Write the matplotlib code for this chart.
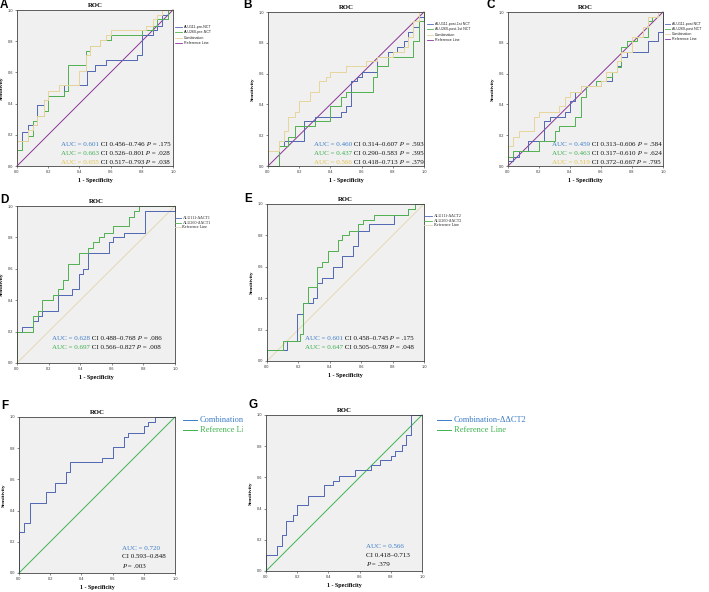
import numpy as np
import matplotlib.pyplot as plt
from matplotlib.lines import Line2D
from matplotlib.transforms import Bbox, TransformedBbox

# ---- data ----
ticks = [0.0, 0.2, 0.4, 0.6, 0.8, 1.0]
tick_labels = ['0.0', '0.2', '0.4', '0.6', '0.8', '1.0']
ref_x = [0, 1]
ref_y = [0, 1]

# A: pre-NCT
a111_fpr = [0, 0, 0.03, 0.07, 0.13, 0.17, 0.20, 0.30, 0.45, 0.50, 0.57, 0.77, 0.80, 0.87, 0.90, 0.93, 0.97, 1.0]
a111_tpr = [0, 0.16, 0.22, 0.26, 0.39, 0.42, 0.45, 0.52, 0.61, 0.65, 0.68, 0.71, 0.84, 0.87, 0.90, 0.97, 1.0, 1.0]
a260_fpr = [0, 0, 0.03, 0.07, 0.10, 0.13, 0.17, 0.20, 0.30, 0.33, 0.44, 0.47, 0.53, 0.60, 0.80, 0.87, 0.90, 0.97, 1.0]
a260_tpr = [0, 0.10, 0.16, 0.19, 0.29, 0.32, 0.35, 0.45, 0.48, 0.65, 0.74, 0.77, 0.81, 0.84, 0.87, 0.90, 0.94, 1.0, 1.0]
acomb_fpr = [0, 0, 0.07, 0.10, 0.13, 0.17, 0.20, 0.27, 0.40, 0.44, 0.47, 0.53, 0.57, 0.60, 0.83, 0.87, 0.90, 0.93, 1.0]
acomb_tpr = [0, 0.16, 0.23, 0.26, 0.32, 0.42, 0.48, 0.52, 0.61, 0.71, 0.77, 0.81, 0.84, 0.87, 0.90, 0.94, 0.97, 1.0, 1.0]

# B: post-1st NCT
b111_fpr = [0, 0.07, 0.10, 0.23, 0.30, 0.47, 0.50, 0.53, 0.57, 0.60, 0.70, 0.77, 0.83, 0.87, 0.90, 0.93, 0.97, 1.0]
b111_tpr = [0, 0.13, 0.16, 0.29, 0.32, 0.35, 0.39, 0.55, 0.58, 0.61, 0.71, 0.74, 0.77, 0.81, 0.87, 0.90, 0.97, 1.0]
b260_fpr = [0, 0.07, 0.13, 0.17, 0.30, 0.40, 0.47, 0.50, 0.67, 0.70, 0.77, 0.93, 0.97, 1.0, 1.0]
b260_tpr = [0, 0.13, 0.19, 0.26, 0.29, 0.39, 0.45, 0.48, 0.58, 0.65, 0.71, 0.81, 0.94, 1.0, 1.0]
bcomb_fpr = [0, 0, 0.07, 0.10, 0.13, 0.17, 0.20, 0.27, 0.33, 0.37, 0.40, 0.50, 0.63, 0.70, 0.80, 0.87, 0.90, 0.93, 0.97, 1.0]
bcomb_tpr = [0, 0.10, 0.16, 0.23, 0.32, 0.35, 0.42, 0.48, 0.55, 0.58, 0.61, 0.65, 0.68, 0.71, 0.74, 0.77, 0.84, 0.94, 1.0, 1.0]

# C: post NCT
c111_fpr = [0, 0, 0.03, 0.07, 0.13, 0.23, 0.27, 0.37, 0.40, 0.43, 0.47, 0.60, 0.67, 0.70, 0.73, 0.77, 0.90, 0.97, 1.0, 1.0]
c111_tpr = [0, 0.03, 0.06, 0.10, 0.16, 0.29, 0.32, 0.35, 0.42, 0.48, 0.52, 0.55, 0.61, 0.65, 0.71, 0.74, 0.81, 0.87, 0.87, 1.0]
c260_fpr = [0, 0, 0.03, 0.20, 0.30, 0.33, 0.43, 0.47, 0.50, 0.57, 0.63, 0.67, 0.70, 0.73, 0.77, 0.83, 0.90, 0.93, 0.97, 1.0]
c260_tpr = [0, 0.06, 0.10, 0.16, 0.23, 0.26, 0.32, 0.45, 0.52, 0.55, 0.58, 0.61, 0.64, 0.77, 0.81, 0.84, 0.94, 0.97, 1.0, 1.0]
ccomb_fpr = [0, 0, 0.03, 0.07, 0.17, 0.20, 0.33, 0.37, 0.40, 0.47, 0.60, 0.63, 0.70, 0.73, 0.80, 0.87, 0.90, 0.97, 1.0]
ccomb_tpr = [0, 0.13, 0.19, 0.23, 0.32, 0.35, 0.39, 0.45, 0.48, 0.52, 0.55, 0.61, 0.68, 0.74, 0.84, 0.90, 0.97, 1.0, 1.0]

# D: ddCT1
d111_fpr = [0, 0, 0.03, 0.10, 0.13, 0.16, 0.26, 0.35, 0.39, 0.42, 0.45, 0.58, 0.61, 0.68, 0.81, 1.0, 1.0]
d111_tpr = [0, 0.20, 0.23, 0.27, 0.30, 0.33, 0.43, 0.47, 0.57, 0.60, 0.70, 0.77, 0.80, 0.83, 0.97, 0.97, 1.0]
d260_fpr = [0, 0, 0.10, 0.13, 0.16, 0.23, 0.26, 0.29, 0.32, 0.39, 0.45, 0.48, 0.52, 0.55, 0.61, 0.71, 0.74, 0.77, 1.0]
d260_tpr = [0, 0.20, 0.30, 0.33, 0.40, 0.43, 0.47, 0.53, 0.63, 0.70, 0.73, 0.77, 0.80, 0.83, 0.87, 0.93, 0.97, 1.0, 1.0]

# E: ddCT2
e111_fpr = [0, 0, 0.13, 0.19, 0.23, 0.29, 0.32, 0.35, 0.42, 0.48, 0.55, 0.58, 0.65, 0.81, 0.90, 0.94, 1.0]
e111_tpr = [0, 0.07, 0.13, 0.30, 0.37, 0.40, 0.50, 0.53, 0.60, 0.67, 0.73, 0.83, 0.87, 0.93, 0.97, 1.0, 1.0]
e260_fpr = [0, 0, 0.10, 0.21, 0.23, 0.26, 0.32, 0.35, 0.39, 0.45, 0.48, 0.52, 0.58, 0.61, 0.68, 0.90, 0.94, 1.0]
e260_tpr = [0, 0.07, 0.13, 0.17, 0.37, 0.47, 0.60, 0.63, 0.70, 0.77, 0.80, 0.83, 0.87, 0.90, 0.93, 0.97, 1.0, 1.0]

# F, G: combinations
f_fpr = [0, 0, 0.03, 0.07, 0.17, 0.23, 0.30, 0.33, 0.53, 0.60, 0.67, 0.70, 0.80, 0.83, 0.87, 1.0]
f_tpr = [0, 0.26, 0.32, 0.45, 0.52, 0.58, 0.65, 0.71, 0.74, 0.81, 0.87, 0.90, 0.94, 0.97, 1.0, 1.0]
g_fpr = [0, 0, 0.07, 0.10, 0.13, 0.17, 0.20, 0.27, 0.37, 0.43, 0.47, 0.57, 0.67, 0.73, 0.80, 0.83, 0.87, 0.90, 0.93, 1.0]
g_tpr = [0, 0.10, 0.16, 0.23, 0.32, 0.36, 0.42, 0.48, 0.55, 0.58, 0.61, 0.65, 0.68, 0.71, 0.74, 0.77, 0.81, 0.87, 1.0, 1.0]

# AUC annotations: (auc, ci, p)
a_stats = [('0.601', '0.456–0.746', '.175'), ('0.663', '0.526–0.801', '.028'), ('0.655', '0.517–0.793', '.038')]
b_stats = [('0.460', '0.314–0.607', '.593'), ('0.437', '0.290–0.583', '.395'), ('0.566', '0.418–0.713', '.379')]
c_stats = [('0.459', '0.313–0.606', '.584'), ('0.463', '0.317–0.610', '.624'), ('0.519', '0.372–0.667', '.795')]
d_stats = [('0.628', '0.488–0.768', '.086'), ('0.697', '0.566–0.827', '.008')]
e_stats = [('0.601', '0.458–0.745', '.175'), ('0.647', '0.505–0.789', '.048')]
f_stats = ('0.720', '0.593–0.848', '.003')
g_stats = ('0.566', '0.418–0.713', '.379')

# ---- styling ----
BLUE = '#5166b4'
GREEN = '#4fb04f'
TAN = '#e6d59a'
PURPLE = '#8a3596'
REF_TAN = '#e3d8b4'
REF_GREEN = '#3fb34f'
T_BLUE = '#3b7cc8'
T_GREEN = '#39ad4c'
T_YELLOW = '#e5c24a'
SERIF = 'Liberation Serif'
SANS = 'Liberation Sans'

W, H = 709, 592
fig = plt.figure(figsize=(W / 100, H / 100), dpi=100)
fig.patch.set_facecolor('white')


def fx(px):
    return px / W


def fy(py):
    return 1 - py / H


def make_ax(l, r, t, b):
    ax = fig.add_axes([fx(l), fy(b), (r - l) / W, (b - t) / H])
    ax.set_facecolor('#f0f0f0')
    ax.set_xlim(0, 1)
    ax.set_ylim(0, 1)
    ax.set_xticks(ticks)
    ax.set_yticks(ticks)
    ax.set_xticklabels(tick_labels, family=SANS)
    ax.set_yticklabels(tick_labels, family=SANS)
    ax.tick_params(labelsize=2.8, length=1.5, width=0.4, pad=1.2, colors='#333')
    for s in ax.spines.values():
        s.set_linewidth(0.6)
        s.set_color('#444')
    ax.set_xlabel('1 - Specificity', fontsize=4.3, fontweight='bold', family=SERIF, labelpad=3)
    ax.set_ylabel('Sensitivity', fontsize=3.8, fontweight='bold', family=SERIF, labelpad=3)
    ax.set_title('ROC', fontsize=4.8, fontweight='bold', family=SERIF, pad=2.5)
    return ax


def roc(ax, fpr, tpr, color):
    ax.step(fpr, tpr, where='post', color=color, lw=0.7, clip_on=False)


def diag(ax, color):
    ax.plot(ref_x, ref_y, color=color, lw=0.7, clip_on=False, zorder=1.5)


def legend(x, y0, dy, labels, colors, size, dx, family):
    for i, (lab, c) in enumerate(zip(labels, colors)):
        y = y0 + i * dy
        fig.add_artist(Line2D([fx(x), fx(x + dx)], [fy(y), fy(y)], color=c, lw=0.6))
        fig.text(fx(x + dx + 1.5), fy(y), lab, fontsize=size, va='center', ha='left',
                 family=family, color='#222')


# ---- panels ----
axA = make_ax(17, 173, 10, 166)
roc(axA, a111_fpr, a111_tpr, BLUE)
roc(axA, a260_fpr, a260_tpr, GREEN)
roc(axA, acomb_fpr, acomb_tpr, TAN)
diag(axA, PURPLE)

axB = make_ax(268, 424, 12, 166)
roc(axB, b111_fpr, b111_tpr, BLUE)
roc(axB, b260_fpr, b260_tpr, GREEN)
roc(axB, bcomb_fpr, bcomb_tpr, TAN)
diag(axB, PURPLE)

axC = make_ax(508, 663, 12, 166)
roc(axC, c111_fpr, c111_tpr, BLUE)
roc(axC, c260_fpr, c260_tpr, GREEN)
roc(axC, ccomb_fpr, ccomb_tpr, TAN)
diag(axC, PURPLE)

axD = make_ax(17, 175, 206, 363)
diag(axD, REF_TAN)
roc(axD, d111_fpr, d111_tpr, BLUE)
roc(axD, d260_fpr, d260_tpr, GREEN)

axE = make_ax(267, 424, 204, 361)
diag(axE, REF_TAN)
roc(axE, e111_fpr, e111_tpr, BLUE)
roc(axE, e260_fpr, e260_tpr, GREEN)

axF = make_ax(19, 175, 417, 573)
diag(axF, REF_GREEN)
roc(axF, f_fpr, f_tpr, BLUE)

axG = make_ax(266, 422, 415, 571)
diag(axG, REF_GREEN)
roc(axG, g_fpr, g_tpr, BLUE)

# overlay for figure-level annotations (pixel coordinates, y downwards)
ov = fig.add_axes([0, 0, 1, 1], facecolor='none')
ov.set_xlim(0, W)
ov.set_ylim(H, 0)
ov.axis('off')

# legends
legend(175, 27, 5.3, ['ALU111-pre-NCT', 'ALU260-pre-NCT', 'Combination', 'Reference Line'],
       [BLUE, GREEN, TAN, PURPLE], 2.6, 7, SANS)
legend(427, 24, 5.3, ['ALU111-post-1st NCT', 'ALU260-post-1st NCT', 'Combination', 'Reference Line'],
       [BLUE, GREEN, TAN, PURPLE], 2.6, 6, SANS)
legend(665, 24, 5.0, ['ALU111-post NCT', 'ALU260-post NCT', 'Combination', 'Reference Line'],
       [BLUE, GREEN, TAN, PURPLE], 2.6, 5, SANS)
legend(175, 218, 4.6, ['ALU111-ΔΔCT1', 'ALU260-ΔΔCT1', 'Reference Line'],
       [BLUE, GREEN, REF_TAN], 3.0, 6, SERIF)
legend(424, 216, 4.6, ['ALU111-ΔΔCT2', 'ALU260-ΔΔCT2', 'Reference Line'],
       [BLUE, GREEN, REF_TAN], 3.0, 8, SERIF)

# F legend is cut off at the panel edge in the original
for i, (lab, c) in enumerate(zip(['Combination-ΔΔCT1', 'Reference Line'], [T_BLUE, REF_GREEN])):
    y = 420 + i * 10
    fig.add_artist(Line2D([fx(183), fx(197)], [fy(y), fy(y)], color=c, lw=0.7))
    t = fig.text(fx(199.5), fy(y), lab, fontsize=6, va='center', ha='left', family=SERIF, color=c)
    t.set_clip_box(TransformedBbox(Bbox.from_extents(0, 0, fx(243), 1), fig.transFigure))
    t.set_clip_on(True)
for i, (lab, c) in enumerate(zip(['Combination-ΔΔCT2', 'Reference Line'], [T_BLUE, REF_GREEN])):
    y = 420 + i * 10
    fig.add_artist(Line2D([fx(437), fx(451)], [fy(y), fy(y)], color=c, lw=0.7))
    fig.text(fx(453.5), fy(y), lab, fontsize=6, va='center', ha='left', family=SERIF, color=c)

# AUC text, coloured AUC then black CI and italic P
text_colors = [T_BLUE, T_GREEN, T_YELLOW]
for (x0, y0, stats) in [(61, 145, a_stats), (314, 145, b_stats), (552, 145, c_stats),
                        (52, 339, d_stats), (305, 339, e_stats)]:
    for i, (auc, ci, p) in enumerate(stats):
        y = y0 + i * 8.6
        prev = ov.text(x0, y, 'AUC = ' + auc, color=text_colors[i], fontsize=5,
                       family=SERIF, va='center', ha='left', clip_on=False)
        for txt, style in [(' CI ' + ci, 'normal'), (' P', 'italic'), (' = ' + p, 'normal')]:
            prev = ov.annotate(txt, xy=(1, 0), xycoords=prev, va='bottom', ha='left',
                               color='#111', fontsize=5, family=SERIF, style=style,
                               annotation_clip=False, clip_on=False)

for (x0, y0, dy, (auc, ci, p)) in [(122, 548, 9, f_stats), (366, 547, 8.5, g_stats)]:
    ov.text(x0, y0, 'AUC = ' + auc, color=T_BLUE, fontsize=5, family=SERIF, va='center')
    ov.text(x0, y0 + dy, 'CI ' + ci, color='#111', fontsize=5, family=SERIF, va='center')
    t = ov.text(x0, y0 + 2 * dy, 'P', color='#111', fontsize=5, family=SERIF,
                style='italic', va='center')
    ov.annotate(' = ' + p, xy=(1, 0), xycoords=t, va='bottom', ha='left', color='#111',
                fontsize=5, family=SERIF, annotation_clip=False, clip_on=False)

# panel letters
for lab, x, y in [('A', 4, 5), ('B', 248, 5), ('C', 491, 5), ('D', 4, 200),
                  ('E', 248, 199), ('F', 5, 406), ('G', 253, 405)]:
    ov.text(x, y, lab, fontsize=8.5, fontweight='bold', family=SANS,
            ha='center', va='center', clip_on=False)

fig.savefig('out.png', dpi=100)
